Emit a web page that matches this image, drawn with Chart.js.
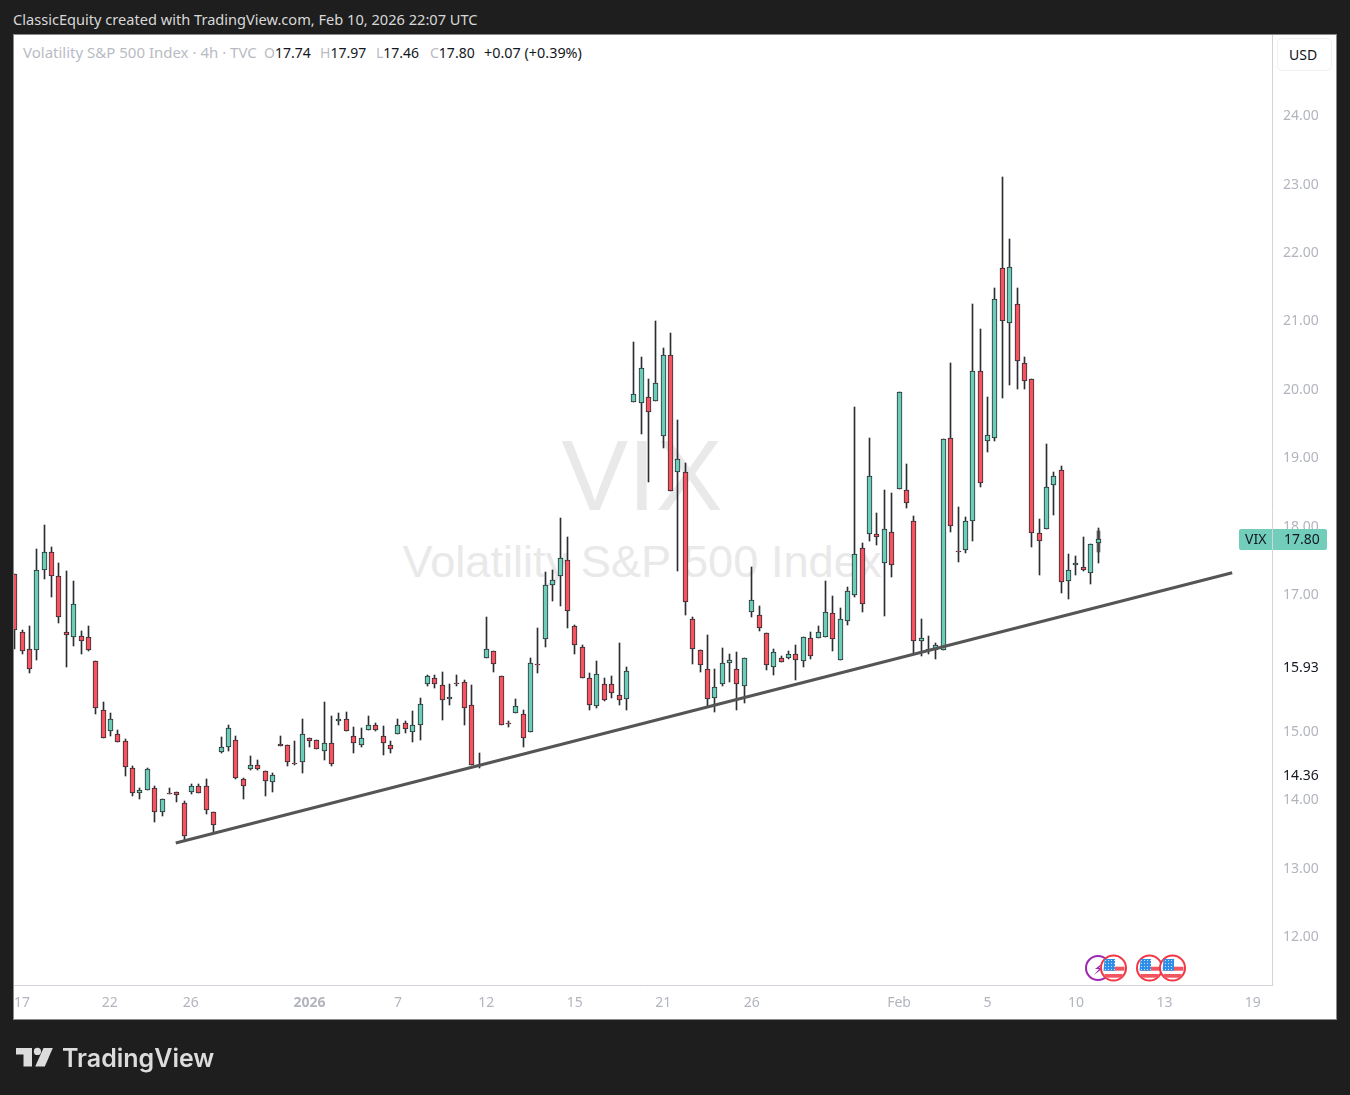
<!DOCTYPE html>
<html>
<head>
<meta charset="utf-8">
<title>VIX 4h</title>
<script src="https://cdn.jsdelivr.net/npm/chart.js@4/dist/chart.umd.min.js"></script>
<style>
  html,body{margin:0;padding:0;background:#1e1e1e;width:1350px;height:1095px;overflow:hidden;font-family:"Noto Sans",sans-serif}
  .abs{position:absolute;white-space:nowrap}
  #frame{left:13px;top:34px;width:1322px;height:984px;background:#fff;border:1px solid #8a8a8a}
  #chart{position:absolute;left:0;top:0}
  .wm{color:#e9e9e9;font-family:"Liberation Sans",sans-serif;left:14px;width:1256px;text-align:center}
  .lg{top:43px;font-size:14px;line-height:19px;color:#131722}
  .lg b{font-weight:400;color:#b8bbc3}
  #usd{left:1277px;top:38px;width:42px;height:31px;padding-left:11px;border:1px solid #eff1f6;border-radius:5px;font-size:14px;line-height:31px;color:#131722}
  #brand{left:62px;top:1042px;font-family:Inter,sans-serif;font-weight:600;font-size:25px;line-height:33px;color:#dcdcdc}
</style>
</head>
<body>
<div class="abs" style="left:13px;top:10px;font-size:14.6px;line-height:19px;color:#d8d8d8">ClassicEquity created with TradingView.com, Feb 10, 2026 22:07 UTC</div>
<div class="abs" id="frame"></div>
<div class="abs wm" style="top:418px;font-size:100px;line-height:115px">VIX</div>
<div class="abs wm" style="top:536px;font-size:45.2px;line-height:52px">Volatility S&amp;P 500 Index</div>
<div class="abs lg" style="left:23px;font-size:15px"><b>Volatility S&amp;P 500 Index · 4h · TVC</b></div>
<div class="abs lg" style="left:264px"><b>O</b>17.74</div>
<div class="abs lg" style="left:320px"><b>H</b>17.97</div>
<div class="abs lg" style="left:376px"><b>L</b>17.46</div>
<div class="abs lg" style="left:430px"><b>C</b>17.80</div>
<div class="abs lg" style="left:484px;font-size:14.4px">+0.07 (+0.39%)</div>
<div class="abs" id="usd">USD</div>
<canvas id="chart" width="1350" height="1095"></canvas>
<svg class="abs" style="left:1080px;top:950px" width="110" height="36" id="icons"></svg>
<svg class="abs" style="left:0;top:1040px" width="60" height="34" viewBox="0 1040 60 34">
  <path fill="#dcdcdc" d="M16 1048h16v18.5h-8.5v-12H16z"/>
  <circle fill="#dcdcdc" cx="37.4" cy="1051.4" r="3.6"/>
  <path fill="#dcdcdc" d="M43.5 1048h9.3l-8 18.5h-9.6z"/>
</svg>
<div class="abs" id="brand">TradingView</div>
<script>
// Values, bar by bar (4h candles)
const opens = [17.29,16.45,16.19,16.18,17.35,17.61,17.27,16.45,16.37,16.38,
  16.37,16.02,15.30,14.99,14.96,14.85,14.45,14.09,14.13,14.16,
  13.82,14.09,14.10,13.94,14.11,14.19,14.19,13.82,14.69,14.76,
  14.86,14.29,14.44,14.50,14.41,14.25,14.80,14.79,14.53,14.55,
  14.89,14.87,14.71,14.82,15.14,15.17,14.93,14.79,15.01,15.09,
  14.93,14.79,14.95,15.11,14.98,15.08,15.69,15.77,15.67,15.46,
  15.70,15.71,15.37,14.50,16.06,16.16,15.80,15.12,15.26,15.24,
  14.98,15.98,16.34,17.13,17.27,17.49,16.53,16.23,15.77,15.36,
  15.69,15.68,15.52,15.47,19.80,19.79,19.88,19.82,19.31,20.50,
  18.79,18.78,16.64,16.18,15.91,15.48,15.68,15.99,15.91,15.66,
  16.73,16.70,16.43,15.94,16.06,16.07,16.12,16.02,16.35,16.35,
  16.37,16.72,16.04,16.60,16.98,17.67,17.87,17.87,17.45,17.90,
  18.53,18.52,18.06,16.31,16.19,16.18,16.18,19.28,17.63,17.64,
  18.06,20.26,19.23,19.28,21.76,20.96,21.24,20.37,20.15,17.89,
  17.95,18.60,18.81,17.19,17.42,17.39,17.30,17.74];
const highs = [17.29,16.47,16.53,17.66,18.01,17.69,17.45,17.34,17.19,16.46,
  16.53,16.02,15.42,15.26,15.01,14.88,14.48,14.16,14.45,14.20,
  14.01,14.16,14.11,13.97,14.22,14.22,14.29,13.82,14.91,15.08,
  14.93,14.31,14.63,14.58,14.41,14.39,14.92,14.79,14.85,15.17,
  14.89,14.87,15.42,15.21,15.26,15.27,15.05,15.04,15.21,15.11,
  15.07,14.85,15.17,15.14,15.29,15.48,15.81,15.81,15.86,15.69,
  15.81,15.74,15.67,14.67,16.66,16.16,15.80,15.14,15.47,15.30,
  16.07,16.50,17.32,17.35,18.11,17.84,16.54,16.26,15.85,16.02,
  15.77,15.80,16.29,15.93,20.69,20.47,20.15,20.99,20.59,20.81,
  19.55,18.91,16.67,16.18,16.40,15.91,16.21,16.12,16.15,16.07,
  17.39,16.82,16.43,16.19,16.10,16.16,16.26,16.37,16.45,16.53,
  17.19,16.97,16.80,17.10,19.74,17.74,19.28,18.19,18.52,18.47,
  19.96,18.90,18.14,16.64,16.38,16.29,19.26,20.38,18.27,18.12,
  21.24,20.88,19.88,21.48,23.09,22.19,21.48,20.47,20.15,18.09,
  19.20,18.79,18.87,17.58,17.55,17.84,17.73,17.97];
const lows = [16.20,16.13,15.84,16.03,17.22,16.95,16.57,15.94,16.24,16.13,
  16.16,15.24,14.90,14.93,14.83,14.34,14.04,14.01,14.13,13.66,
  13.76,14.07,13.96,13.40,14.07,14.09,13.79,13.52,14.67,14.71,
  14.29,14.01,14.42,14.42,14.05,14.10,14.78,14.49,14.50,14.39,
  14.77,14.73,14.58,14.48,15.09,14.99,14.67,14.77,15.01,14.99,
  14.64,14.67,14.95,14.97,14.84,14.86,15.65,15.62,15.16,15.38,
  15.65,15.08,14.50,14.45,16.06,15.86,15.08,15.05,15.26,14.77,
  14.98,15.84,16.23,16.90,16.82,16.51,16.13,15.77,15.31,15.34,
  15.43,15.48,15.37,15.31,19.80,19.34,18.64,19.82,19.13,18.50,
  17.33,16.69,15.97,15.86,15.36,15.28,15.65,15.72,15.31,15.40,
  16.67,16.46,15.89,15.81,16.00,16.05,15.75,15.94,16.05,16.35,
  16.37,16.16,16.03,16.55,16.95,16.74,17.78,17.72,16.68,17.25,
  18.53,18.26,16.13,16.09,16.12,16.05,16.18,17.90,17.47,17.60,
  17.77,18.56,19.07,19.24,19.87,20.05,20.00,19.99,17.69,17.28,
  17.95,18.15,17.01,16.92,17.28,17.33,17.15,17.46];
const closes = [16.47,16.16,15.91,17.35,17.62,17.26,16.67,16.40,16.86,16.31,
  16.18,15.33,14.90,15.17,14.83,14.47,14.09,14.14,14.44,13.81,
  14.01,14.07,14.06,13.46,14.19,14.09,13.84,13.62,14.76,15.04,
  14.31,14.19,14.50,14.44,14.26,14.35,14.78,14.55,14.51,14.95,
  14.85,14.73,14.82,14.52,15.17,14.99,14.82,14.90,15.09,15.01,
  14.82,14.74,15.08,15.02,15.09,15.39,15.80,15.69,15.45,15.49,
  15.68,15.33,14.50,14.48,16.19,15.97,15.09,15.10,15.36,14.89,
  15.99,15.96,17.13,17.20,17.52,16.75,16.25,15.77,15.37,15.83,
  15.45,15.55,15.45,15.87,19.93,20.31,19.66,20.08,20.49,18.50,
  18.97,16.89,16.19,15.96,15.46,15.64,15.99,16.03,15.69,16.07,
  16.91,16.50,15.96,16.15,16.01,16.13,16.03,16.37,16.09,16.45,
  16.73,16.34,16.63,17.05,17.58,16.86,18.72,17.84,17.95,17.43,
  19.95,18.33,16.31,16.35,16.16,16.26,19.26,18.00,17.61,18.06,
  20.26,18.63,19.32,21.31,20.99,21.78,20.40,20.12,17.89,17.77,
  18.57,18.72,17.17,17.35,17.46,17.35,17.73,17.80];

const xTickBars = [1,12.9,23.9,40,52,64,76,88,100,120,132,144,156,168];
const xTickLabels = ['17','22','26','2026','7','12','15','21','26','Feb','5','10','13','19'];
const priceTicks = [12,13,14,15,17,18,19,20,21,22,23,24];
const markerTicks = [14.36,15.93];
const liveBar = 147;
const liveRange = [17.62,17.92];
const trendBars = [21.85,165.2];
const trendValues = [13.36,17.31];
const UP = '#6bcdb8', DOWN = '#f7525f', EDGE = '#2c2e33', MUTED = '#b2b5be', AXIS = '#d1d4dc';
const TICK_FONT = 'Noto Sans';

const last = closes.length - 1;

// snap bars to whole pixels, TradingView style, otherwise 1px wicks go blurry
const snapBars = {
  id: 'snapBars',
  afterDatasetsUpdate(chart){
    chart.getSortedVisibleDatasetMetas().forEach(meta=>{
      if(meta.type !== 'bar') return;
      meta.data.forEach(el=>{
        el.x = Math.floor(el.x) + 0.5;
        el.y = Math.round(el.y);
        el.base = Math.round(el.base);
        if(el.base - el.y < 1) el.base = el.y + 1;
      });
    });
  }
};

// last price tag, sits over the y axis line
const priceTag = {
  id: 'priceTag',
  afterDraw(chart){
    const {ctx} = chart;
    const y = Math.round(chart.scales.y.getPixelForValue(closes[last]));
    ctx.save();
    ctx.fillStyle = '#72cebb';
    ctx.beginPath();
    ctx.roundRect(1239, y - 10, 88, 21, 2);
    ctx.fill();
    ctx.fillStyle = AXIS;
    ctx.fillRect(1272, y - 10, 1, 21);
    ctx.fillStyle = '#131722';
    ctx.font = '14px "' + TICK_FONT + '"';
    ctx.textBaseline = 'middle';
    ctx.fillText('VIX', 1245, y + 1);
    ctx.fillText(closes[last].toFixed(2), 1284, y + 1);
    ctx.restore();
  }
};

const chart = new Chart(document.getElementById('chart'), {
  type: 'bar',
  data: {
    datasets: [
      {
        label: 'Trend',
        type: 'line',
        data: trendBars.map((b,i)=>({x:b, y:trendValues[i]})),
        borderColor: '#555555',
        borderWidth: 3,
        pointRadius: 0,
        order: 0
      },
      {
        label: 'Body',
        data: opens.map((o,i)=>({x:i, y:[Math.min(o,closes[i]), Math.max(o,closes[i])]})),
        backgroundColor: opens.map((o,i)=> closes[i] >= o ? UP : DOWN),
        borderColor: EDGE,
        borderWidth: 1,
        borderSkipped: false,
        barThickness: 5,
        grouped: false,
        order: 1
      },
      {
        label: 'Live',
        data: [{x:liveBar, y:liveRange}],
        backgroundColor: 'rgba(70,70,70,0.85)',
        barThickness: 3,
        grouped: false,
        order: 2
      },
      {
        label: 'Wick',
        data: highs.map((h,i)=>({x:i, y:[lows[i], h]})),
        backgroundColor: EDGE,
        barThickness: 1,
        grouped: false,
        order: 3
      }
    ]
  },
  options: {
    responsive: false,
    animation: false,
    layout: { padding: { left: 14, top: 35, right: 14, bottom: 76 } },
    plugins: { legend: { display: false }, tooltip: { enabled: false } },
    scales: {
      x: {
        type: 'linear',
        offset: false,
        min: -0.095,
        max: 170.6,
        grid: { display: false },
        border: { display: true, color: AXIS },
        afterBuildTicks(scale){ scale.ticks = xTickBars.map(v=>({value:v})); },
        afterFit(scale){ scale.height = 34; scale.paddingLeft = 0; scale.paddingRight = 0; },
        ticks: {
          autoSkip: false,
          maxRotation: 0,
          padding: 2,
          color: MUTED,
          font: ctx=>({ family: TICK_FONT, size: 14, weight: ctx.tick && ctx.tick.value === 40 ? 'bold' : 'normal' }),
          callback: v=> xTickLabels[xTickBars.indexOf(v)]
        }
      },
      y: {
        position: 'right',
        min: 11.284,
        max: 25.172,
        grid: { display: false },
        border: { display: true, color: AXIS },
        afterBuildTicks(scale){ scale.ticks = priceTicks.concat(markerTicks).map(v=>({value:v})); },
        afterFit(scale){ scale.width = 64; scale.paddingTop = 0; scale.paddingBottom = 0; },
        ticks: {
          autoSkip: false,
          padding: 3,
          labelOffset: 1,
          color: ctx=> ctx.tick && markerTicks.includes(ctx.tick.value) ? '#131722' : MUTED,
          font: { family: TICK_FONT, size: 14 },
          callback: v=> v.toFixed(2)
        }
      }
    }
  },
  plugins: [snapBars, priceTag]
});

// event badges under the candles, drawn over the canvas
const flagCentres = [33.5,69.5,92.5];
function flag(cx){
  return `<circle cx="${cx}" cy="18" r="12.5" fill="#fff" stroke="#f23645" stroke-width="2"/>`
    + `<rect x="${cx-8}" y="16.7" width="19" height="4" fill="#f2555f"/>`
    + `<rect x="${cx-9}" y="24" width="18" height="3.7" fill="#f2555f"/>`
    + `<path d="M${cx-9} 9h10.5v11.7h-11.5z" fill="url(#stars)"/>`;
}
document.getElementById('icons').innerHTML =
  '<defs><pattern id="stars" width="3" height="3" patternUnits="userSpaceOnUse">'
  + '<rect width="3" height="3" fill="#2f8fe8"/><rect x="1" y="1" width="1" height="1" fill="#cfe4fa"/></pattern></defs>'
  + '<circle cx="18" cy="18" r="12" fill="#fff" stroke="#9c27b0" stroke-width="2"/>'
  + '<path d="M24 12l-9 7h4l-5 6 9-7h-4z" fill="#9c27b0"/>'
  + flagCentres.map(flag).join('');
</script>
</body>
</html>
